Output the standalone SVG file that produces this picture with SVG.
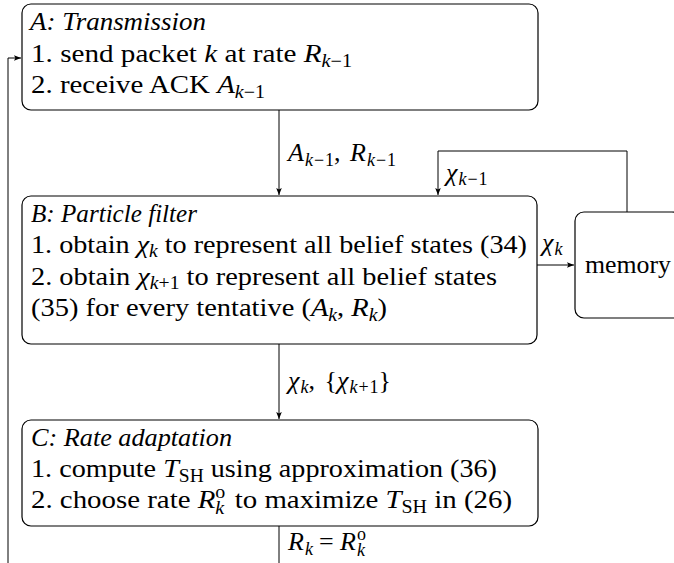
<svg xmlns="http://www.w3.org/2000/svg" width="674" height="563" viewBox="0 0 674 563" font-family="'Liberation Serif', Tinos, 'DejaVu Serif', serif">
<style>
text{font-family:'Liberation Serif', Tinos, 'DejaVu Serif', serif;font-size:26px;fill:#000}
.i{font-style:italic}
.s{font-size:18px}
.box{fill:#fff;stroke:#000;stroke-width:1.2}
.ln{fill:none;stroke:#000;stroke-width:1}
</style>
<defs>
<marker id="ar" viewBox="0 0 10 10" refX="10" refY="5" markerWidth="7" markerHeight="7" markerUnits="userSpaceOnUse" orient="auto">
<path d="M0,1 L10,5 L0,9 L2,5 z" fill="#000"/>
</marker>
</defs>
<g id="connectors">
<path class="ln" d="M279,110 V195" marker-end="url(#ar)"/>
<path class="ln" d="M627,212 V151 H438 V195" marker-end="url(#ar)"/>
<path class="ln" d="M537,265 H574" marker-end="url(#ar)"/>
<path class="ln" d="M279,344 V419" marker-end="url(#ar)"/>
<path class="ln" d="M279,526 V575 H8 V58 H21" marker-end="url(#ar)"/>
<text x="288" y="161"><tspan class="i">A</tspan><tspan class="s i" dy="5" dx="1">k</tspan><tspan class="s" dx="1">−</tspan><tspan class="s" dx="1">1</tspan><tspan dy="-5">, </tspan><tspan class="i" dx="3">R</tspan><tspan class="s i" dy="5" dx="1">k</tspan><tspan class="s" dx="1">−</tspan><tspan class="s" dx="1">1</tspan></text>
<text x="446" y="181"><tspan class="i">χ</tspan><tspan class="s i" dy="4" dx="1">k</tspan><tspan class="s" dx="1">−</tspan><tspan class="s" dx="1">1</tspan></text>
<text x="542" y="251"><tspan class="i">χ</tspan><tspan class="s i" dy="4" dx="1">k</tspan></text>
<text x="288" y="389"><tspan class="i">χ</tspan><tspan class="s i" dy="4" dx="1">k</tspan><tspan dy="-4">, </tspan><tspan dx="3">{</tspan><tspan class="i">χ</tspan><tspan class="s i" dy="4" dx="1">k</tspan><tspan class="s" dx="1">+</tspan><tspan class="s" dx="1">1</tspan><tspan dy="-4">}</tspan></text>
<text x="288" y="550"><tspan class="i">R</tspan><tspan class="s i" dy="5" dx="1">k</tspan><tspan dy="-5" dx="6">= </tspan><tspan class="i">R</tspan><tspan class="s" dy="-10" dx="1">o</tspan><tspan class="s i" dx="-9" dy="16">k</tspan></text>
</g>
<g id="nodeA">
<rect class="box" x="22" y="4" width="516" height="106" rx="9"/>
<text x="30" y="30" class="i" textLength="176" lengthAdjust="spacingAndGlyphs">A: Transmission</text>
<text x="31" y="62" textLength="321" lengthAdjust="spacingAndGlyphs">1. send packet <tspan class="i">k</tspan> at rate <tspan class="i">R</tspan><tspan class="s i" dy="5">k</tspan><tspan class="s">−1</tspan></text>
<text x="31" y="93" textLength="234" lengthAdjust="spacingAndGlyphs">2. receive ACK <tspan class="i">A</tspan><tspan class="s i" dy="5">k</tspan><tspan class="s">−1</tspan></text>
</g>
<g id="nodeB">
<rect class="box" x="22" y="196" width="515" height="148" rx="9"/>
<text x="31" y="222" class="i" textLength="166" lengthAdjust="spacingAndGlyphs">B: Particle filter</text>
<text x="31" y="253" textLength="496" lengthAdjust="spacingAndGlyphs">1. obtain <tspan class="i">χ</tspan><tspan class="s i" dy="4">k</tspan><tspan dy="-4"> to represent all belief states (34)</tspan></text>
<text x="31" y="285" textLength="466" lengthAdjust="spacingAndGlyphs">2. obtain <tspan class="i">χ</tspan><tspan class="s i" dy="4">k</tspan><tspan class="s">+1</tspan><tspan dy="-4"> to represent all belief states</tspan></text>
<text x="31" y="316" textLength="356" lengthAdjust="spacingAndGlyphs">(35) for every tentative (<tspan class="i">A</tspan><tspan class="s i" dy="5">k</tspan><tspan dy="-5">, </tspan><tspan class="i">R</tspan><tspan class="s i" dy="5">k</tspan><tspan dy="-5">)</tspan></text>
</g>
<g id="nodeC">
<rect class="box" x="22" y="420" width="516" height="106" rx="9"/>
<text x="31" y="446" class="i" textLength="201" lengthAdjust="spacingAndGlyphs">C: Rate adaptation</text>
<text x="31" y="477" textLength="466" lengthAdjust="spacingAndGlyphs">1. compute <tspan class="i">T</tspan><tspan class="s" dy="5">SH</tspan><tspan dy="-5"> using approximation (36)</tspan></text>
<text x="31" y="508" textLength="481" lengthAdjust="spacingAndGlyphs">2. choose rate <tspan class="i">R</tspan><tspan class="s" dy="-10">o</tspan><tspan class="s i" dx="-9" dy="16">k</tspan><tspan dy="-6" dx="3"> to maximize </tspan><tspan class="i">T</tspan><tspan class="s" dy="5">SH</tspan><tspan dy="-5"> in (26)</tspan></text>
</g>
<g id="memory">
<rect class="box" x="575" y="212" width="106" height="106" rx="9"/>
<text x="585" y="273" textLength="86" lengthAdjust="spacingAndGlyphs">memory</text>
</g>
</svg>
